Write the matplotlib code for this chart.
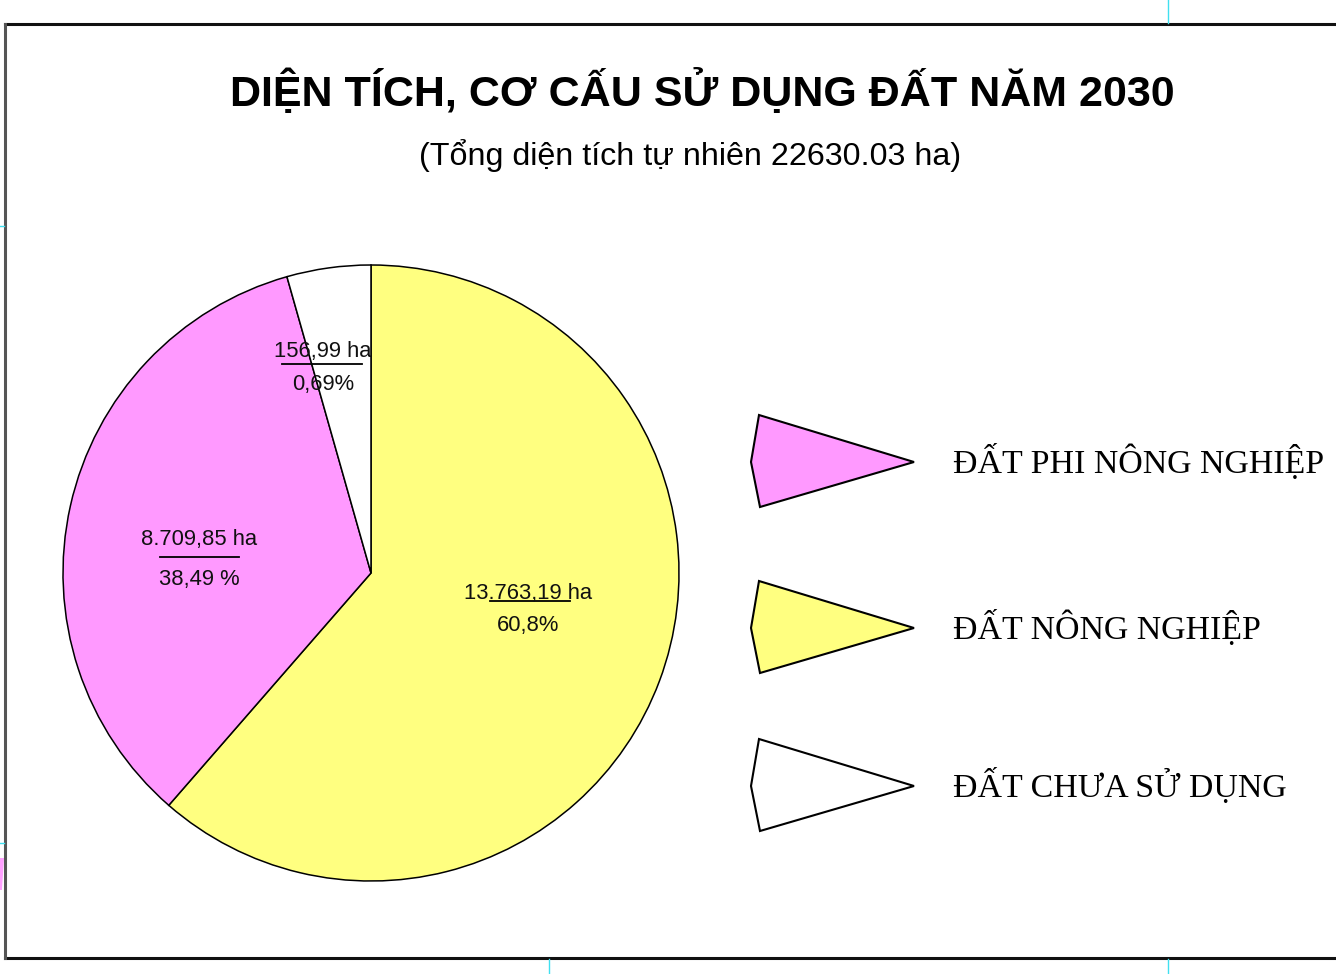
import matplotlib.pyplot as plt
from matplotlib.lines import Line2D
from matplotlib.patches import Polygon

W, H = 1336, 974

# du lieu
categories = ["ĐẤT NÔNG NGHIỆP", "ĐẤT PHI NÔNG NGHIỆP", "ĐẤT CHƯA SỬ DỤNG"]
area_labels = ["13.763,19 ha", "8.709,85 ha", "156,99 ha"]
pct_labels = ["60,8%", "38,49 %", "0,69%"]
# ty le cac mieng banh nhu ve tren hinh (%)
drawn_share = [61.4, 34.2, 4.4]
colors = ["#FFFF80", "#FF99FF", "#FFFFFF"]
legend_order = [1, 0, 2]


def px(x, y):
    return x / W, 1 - y / H


fig = plt.figure(figsize=(W / 100, H / 100), dpi=100)

# khung
fr = dict(color="#111111", lw=2.2, transform=fig.transFigure)
fig.add_artist(Line2D([5 / W, 1], [1 - 24 / H] * 2, **fr))
fig.add_artist(Line2D([5 / W, 1], [1 - 958 / H] * 2, **fr))
fig.add_artist(Line2D([5 / W] * 2, [1 - 24 / H, 1 - 958 / H], color="#555555", lw=2.2,
                      transform=fig.transFigure))
cy = dict(color="#40E0F0", lw=1, transform=fig.transFigure)
fig.add_artist(Line2D([1168 / W] * 2, [1, 1 - 23 / H], **cy))
fig.add_artist(Line2D([1168 / W] * 2, [1 - 959 / H, 0], **cy))
fig.add_artist(Line2D([549 / W] * 2, [1 - 959 / H, 0], **cy))
fig.add_artist(Line2D([0, 4 / W], [1 - 226 / H] * 2, **cy))
fig.add_artist(Line2D([0, 4 / W], [1 - 843 / H] * 2, **cy))
fig.add_artist(Polygon([px(0, 858), px(4, 858), px(2, 890), px(0, 890)],
                       closed=True, fc="#FFA0FF", ec="none", transform=fig.transFigure))

# tieu de
fig.text(*px(702, 92), "DIỆN TÍCH, CƠ CẤU SỬ DỤNG ĐẤT NĂM 2030", ha="center", va="center",
         fontsize=31, fontweight="bold", family="Liberation Sans")
fig.text(*px(690, 156), "(Tổng diện tích tự nhiên 22630.03 ha)", ha="center", va="center",
         fontsize=23.2, family="Liberation Sans")

# bieu do tron
cx, cyy, r = 371, 573, 308
lim = 1.1
side = 2 * lim * r
ax = fig.add_axes([(cx - side / 2) / W, (H - cyy - side / 2) / H, side / W, side / H])
ax.pie(drawn_share, colors=colors, startangle=90, counterclock=False,
       wedgeprops=dict(edgecolor="black", linewidth=1.1))
ax.set_xlim(-lim, lim)
ax.set_ylim(-lim, lim)
ax.set_aspect("equal")
ax.axis("off")

lab_fs = 15.8
label_pos = [(528, 594, 626, 490, 570, 601), (199, 540, 580, 160, 239, 557),
             (323, 352, 384, 282, 362, 364)]
for i, (x, y1, y2, lx1, lx2, ly) in enumerate(label_pos):
    fig.text(*px(x, y1), area_labels[i], ha="center", va="center", fontsize=lab_fs,
             family="Liberation Sans", color="#111111")
    fig.text(*px(x, y2), pct_labels[i], ha="center", va="center", fontsize=lab_fs,
             family="Liberation Sans", color="#111111")
    fig.add_artist(Line2D([lx1 / W, lx2 / W], [1 - ly / H] * 2, color="black", lw=1.3,
                          transform=fig.transFigure))

# chu giai
ys = [462, 628, 786]
for k, idx in enumerate(legend_order):
    yc = ys[k]
    pts = [px(759, yc - 47), px(751, yc), px(760, yc + 45), px(914, yc)]
    fig.add_artist(Polygon(pts, closed=True, fc=colors[idx], ec="black", lw=1.5,
                           transform=fig.transFigure))
    fig.text(*px(953, yc), categories[idx], ha="left", va="center", fontsize=24.4,
             family="Liberation Serif")

fig.savefig("out.png", dpi=100)
